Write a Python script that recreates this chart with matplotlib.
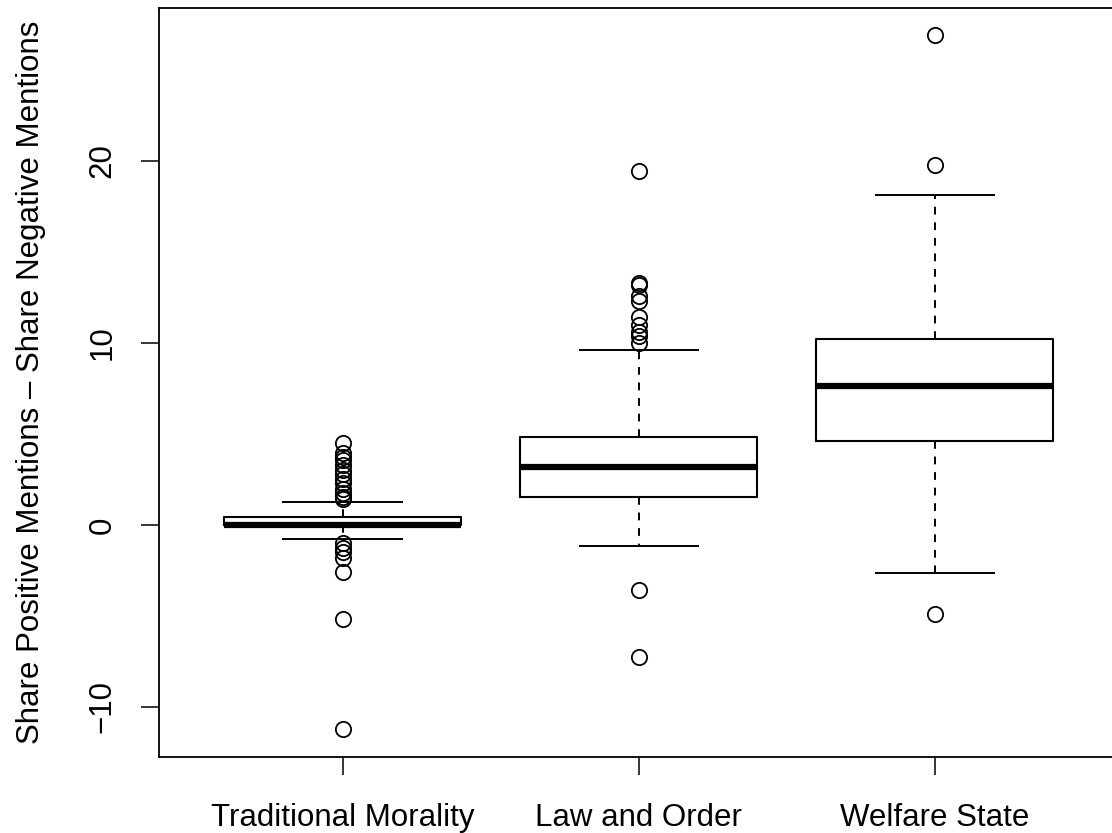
import matplotlib
matplotlib.use('Agg')
import matplotlib.pyplot as plt

plt.rcParams['font.family'] = ['Liberation Sans', 'DejaVu Sans']

# Datos (estadisticos de cada caja)
categorias = ['Traditional Morality', 'Law and Order', 'Welfare State']
q1 = [0.0, 1.55, 4.6]
mediana = [0.0, 3.2, 7.65]
q3 = [0.45, 4.85, 10.2]
bigote_inf = [-0.8, -1.15, -2.65]
bigote_sup = [1.25, 9.6, 18.1]
atipicos = [
    [4.5, 3.95, 3.75, 3.55, 3.3, 3.0, 2.8, 2.5, 2.3, 2.0, 1.75, 1.55, 1.4,
     -1.0, -1.25, -1.5, -1.8, -2.6, -5.15, -11.2],
    [19.45, 13.3, 13.2, 12.6, 12.3, 11.4, 11.0, 10.6, 10.4, 10.0, -3.6, -7.25],
    [26.9, 19.75, -4.9],
]

stats = []
for i, cat in enumerate(categorias):
    stats.append({'label': cat, 'q1': q1[i], 'med': mediana[i], 'q3': q3[i],
                  'whislo': bigote_inf[i], 'whishi': bigote_sup[i],
                  'fliers': atipicos[i]})

fig = plt.figure(figsize=(11.12, 8.33), dpi=100)
# el panel se sale un poco por la derecha, como en el original
ax = fig.add_axes([159 / 1112, 1 - 757 / 833, 959.5 / 1112, 749 / 833])

ax.bxp(stats, positions=[1, 2, 3], widths=0.8, showfliers=True,
       boxprops=dict(color='black', linewidth=1.5),
       medianprops=dict(color='black', linewidth=4.5, solid_capstyle='butt'),
       whiskerprops=dict(color='black', linewidth=1.4, linestyle=(0, (4, 4))),
       capprops=dict(color='black', linewidth=1.4),
       capwidths=0.4,
       flierprops=dict(marker='o', markerfacecolor='none', markeredgecolor='black',
                       markersize=11, markeredgewidth=1.3))

ax.set_xlim(0.38, 3.62)
ax.set_ylim(-12.75, 28.4)
ax.set_yticks([-10, 0, 10, 20])
ax.set_yticklabels(['\u221210', '0', '10', '20'], rotation=90, va='center')
ax.set_xticks([1, 2, 3])
ax.set_xticklabels(categorias)
ax.tick_params(axis='both', direction='out', length=13, width=1.1, labelsize=22.5)
ax.tick_params(axis='x', pad=20)
ax.tick_params(axis='y', pad=17)
ax.set_ylabel('Share Positive Mentions \u2013 Share Negative Mentions', fontsize=22.5, labelpad=30)
for s in ax.spines.values():
    s.set_linewidth(1.3)

plt.savefig('out.png', dpi=100)
plt.close()
